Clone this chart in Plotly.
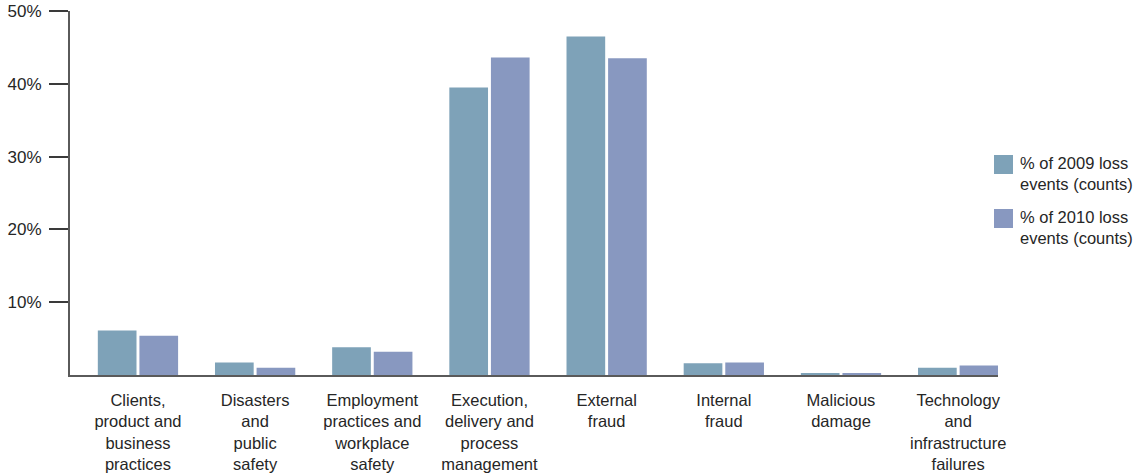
import plotly.graph_objects as go

categories = [
    "Clients,<br>product and<br>business<br>practices",
    "Disasters<br>and<br>public<br>safety",
    "Employment<br>practices and<br>workplace<br>safety",
    "Execution,<br>delivery and<br>process<br>management",
    "External<br>fraud",
    "Internal<br>fraud",
    "Malicious<br>damage",
    "Technology<br>and<br>infrastructure<br>failures",
]
share_2009 = [6.1, 1.7, 3.8, 39.5, 46.5, 1.6, 0.2, 1.0]
share_2010 = [5.4, 1.0, 3.2, 43.6, 43.5, 1.7, 0.2, 1.3]
series_names = ["% of 2009 loss<br>events (counts)", "% of 2010 loss<br>events (counts)"]
y_tick_values = [10, 20, 30, 40, 50]
y_tick_labels = ["10%", "20%", "30%", "40%", "50%"]

colors = ["#7ea2b8", "#8898c0"]
text_color = "#262626"
font_family = "Liberation Sans, Arial, sans-serif"

W, H = 1138, 475
M_L, M_R, M_T, M_B = 70, 140, 11, 100
plot_w = W - M_L - M_R
plot_h = H - M_T - M_B

fig = go.Figure()
for name, vals, col in zip(series_names, [share_2009, share_2010], colors):
    fig.add_trace(go.Bar(x=categories, y=vals, name=name, marker=dict(color=col, line=dict(width=0)),
                         showlegend=False))

# legend drawn as swatches + labels to the right of the plot
def px_to_paper_x(px):
    return (px - M_L) / plot_w

def px_to_paper_y(py):
    return (H - M_B - py) / plot_h

swatch_x0, swatch_x1 = 994, 1013
swatch_tops = [155, 209]
for top, name, col in zip(swatch_tops, series_names, colors):
    fig.add_shape(type="rect", xref="paper", yref="paper",
                  x0=px_to_paper_x(swatch_x0), x1=px_to_paper_x(swatch_x1),
                  y0=px_to_paper_y(top + 19), y1=px_to_paper_y(top),
                  fillcolor=col, line=dict(width=0))
    fig.add_annotation(xref="paper", yref="paper", x=px_to_paper_x(1018), y=px_to_paper_y(top - 3),
                       xanchor="left", yanchor="top", align="left", showarrow=False,
                       text=name, font=dict(size=16.5, color=text_color, family=font_family))

fig.update_layout(
    width=W, height=H,
    margin=dict(l=M_L, r=M_R, t=M_T, b=M_B, autoexpand=False),
    paper_bgcolor="white", plot_bgcolor="white",
    barmode="group", bargap=0.29, bargroupgap=0.07,
    font=dict(family=font_family, size=17, color=text_color),
    xaxis=dict(type="category", range=[-0.58, 7.34], showline=True, linecolor="#5a5a5a", linewidth=2,
               ticks="", showgrid=False, zeroline=False, automargin=False, ticklabelstandoff=9,
               tickfont=dict(size=16.5, color=text_color)),
    yaxis=dict(range=[0, 50], tickvals=y_tick_values, ticktext=y_tick_labels, showline=True,
               linecolor="#5a5a5a", linewidth=2, ticks="outside", ticklen=19, tickwidth=2,
               tickcolor="#3a3a3a", showgrid=False, zeroline=False, automargin=False,
               ticklabelstandoff=4, tickfont=dict(size=17, color=text_color)),
)

fig.write_html("out.html")
